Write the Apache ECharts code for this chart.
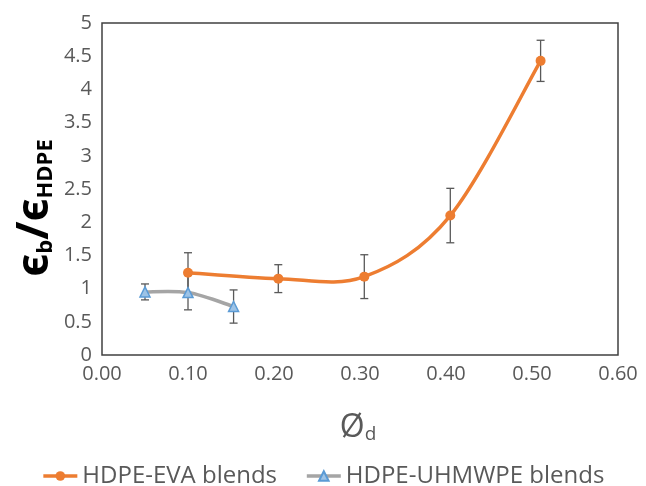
<!doctype html>
<html>
<head>
<meta charset="utf-8">
<style>html,body{margin:0;padding:0;background:#fff}#main{width:646px;height:486px}</style>
</head>
<body>
<div id="main"></div>
<script src="https://cdn.jsdelivr.net/npm/echarts@6/dist/echarts.min.js"></script>
<script>
var FONT = '"Open Sans", "Noto Sans", sans-serif';

var evaX = [0.10, 0.205, 0.305, 0.405, 0.51];
var evaY = [1.24, 1.15, 1.18, 2.10, 4.43];
var evaErr = [0.30, 0.21, 0.33, 0.41, 0.31];

var uhX = [0.05, 0.10, 0.153];
var uhY = [0.95, 0.94, 0.73];
var uhErr = [0.12, 0.26, 0.25];

var seriesNames = ['HDPE-EVA blends', 'HDPE-UHMWPE blends'];
var evaColor = '#ED7D31', uhLine = '#A5A5A5';

function pairs(xs, ys) {
    return xs.map(function (x, i) { return [x, ys[i]]; });
}
function errRows(xs, ys, es) {
    return xs.map(function (x, i) { return [x, ys[i] - es[i], ys[i] + es[i]]; });
}

function renderErr(params, api) {
    var lo = api.coord([api.value(0), api.value(1)]);
    var hi = api.coord([api.value(0), api.value(2)]);
    var w = 4;
    var st = { stroke: '#595959', lineWidth: 1.3 };
    return {
        type: 'group',
        children: [
            { type: 'line', shape: { x1: lo[0], y1: lo[1], x2: hi[0], y2: hi[1] }, style: st },
            { type: 'line', shape: { x1: lo[0] - w, y1: lo[1], x2: lo[0] + w, y2: lo[1] }, style: st },
            { type: 'line', shape: { x1: hi[0] - w, y1: hi[1], x2: hi[0] + w, y2: hi[1] }, style: st }
        ]
    };
}

// excel-like smoothed line: one bezier segment per data point (to the next one)
function smoothRenderer(xs, ys, color) {
    return function (params, api) {
        var i = params.dataIndex;
        var n = xs.length;
        if (i >= n - 1) return null;
        var p = xs.map(function (x, k) { return api.coord([x, ys[k]]); });
        var p0 = p[Math.max(i - 1, 0)], p1 = p[i], p2 = p[i + 1], p3 = p[Math.min(i + 2, n - 1)];
        return {
            type: 'bezierCurve',
            shape: {
                x1: p1[0], y1: p1[1], x2: p2[0], y2: p2[1],
                cpx1: p1[0] + (p2[0] - p0[0]) / 6, cpy1: p1[1] + (p2[1] - p0[1]) / 6,
                cpx2: p2[0] - (p3[0] - p1[0]) / 6, cpy2: p2[1] - (p3[1] - p1[1]) / 6
            },
            style: { stroke: color, lineWidth: 3.5, fill: null, lineCap: 'round' }
        };
    };
}

var chart = echarts.init(document.getElementById('main'));
chart.setOption({
    animation: false,
    grid: { left: 102, right: 28, top: 23, bottom: 131, show: true, borderColor: '#404040', borderWidth: 1.5 },
    xAxis: {
        type: 'value', min: 0, max: 0.6, interval: 0.1,
        axisLine: { show: false }, axisTick: { show: false }, splitLine: { show: false },
        axisLabel: { color: '#595959', fontSize: 20, fontFamily: FONT, margin: 9,
            formatter: function (v) { return v.toFixed(2); } }
    },
    yAxis: {
        type: 'value', min: 0, max: 5, interval: 0.5,
        axisLine: { show: false }, axisTick: { show: false }, splitLine: { show: false },
        axisLabel: { color: '#595959', fontSize: 20, fontFamily: FONT, margin: 10 }
    },
    legend: {
        top: 459, left: 'center', itemWidth: 34, itemHeight: 12, itemGap: 28,
        textStyle: { color: '#595959', fontSize: 24, fontFamily: FONT },
        data: [
            { name: seriesNames[0], lineStyle: { color: evaColor, width: 3.5, opacity: 1 } },
            { name: seriesNames[1], lineStyle: { color: uhLine, width: 3.5, opacity: 1 } }
        ]
    },
    graphic: [
        {
            type: 'text', x: 32, y: 208, rotation: Math.PI / 2,
            style: {
                text: '{a|ϵ}{b|b}{a|/ϵ}{b|HDPE}',
                align: 'center', verticalAlign: 'middle',
                rich: {
                    a: { fontSize: 44, fontWeight: 'bold', fill: '#000', fontFamily: FONT, verticalAlign: 'bottom', lineHeight: 50 },
                    b: { fontSize: 22, fontWeight: 'bold', fill: '#000', fontFamily: FONT, verticalAlign: 'bottom', lineHeight: 36 }
                }
            }
        },
        {
            type: 'text', x: 358, y: 425,
            style: {
                text: '{a|Ø}{b|d}',
                align: 'center', verticalAlign: 'middle',
                rich: {
                    a: { fontSize: 32, fill: '#595959', fontFamily: FONT, verticalAlign: 'bottom', lineHeight: 38 },
                    b: { fontSize: 19, fill: '#595959', fontFamily: FONT, verticalAlign: 'bottom', lineHeight: 27 }
                }
            }
        }
    ],
    series: [
        {
            type: 'custom', renderItem: renderErr, z: 1, silent: true,
            encode: { x: 0, y: [1, 2] }, data: errRows(evaX, evaY, evaErr)
        },
        {
            type: 'custom', renderItem: renderErr, z: 1, silent: true,
            encode: { x: 0, y: [1, 2] }, data: errRows(uhX, uhY, uhErr)
        },
        {
            type: 'custom', renderItem: smoothRenderer(uhX, uhY, uhLine), z: 2, silent: true,
            encode: { x: 0, y: 1 }, data: pairs(uhX, uhY)
        },
        {
            type: 'custom', renderItem: smoothRenderer(evaX, evaY, evaColor), z: 2, silent: true,
            encode: { x: 0, y: 1 }, data: pairs(evaX, evaY)
        },
        {
            name: seriesNames[0], type: 'line', z: 4,
            data: pairs(evaX, evaY),
            symbol: 'circle', symbolSize: 10,
            lineStyle: { color: evaColor, width: 3.5, opacity: 0 },
            itemStyle: { color: evaColor }
        },
        {
            name: seriesNames[1], type: 'line', z: 3,
            data: pairs(uhX, uhY),
            symbol: 'triangle', symbolSize: 10,
            lineStyle: { color: uhLine, width: 3.5, opacity: 0 },
            itemStyle: { color: '#9DC3E6', borderColor: '#5B9BD5', borderWidth: 1.5 }
        }
    ]
});
</script>
</body>
</html>
